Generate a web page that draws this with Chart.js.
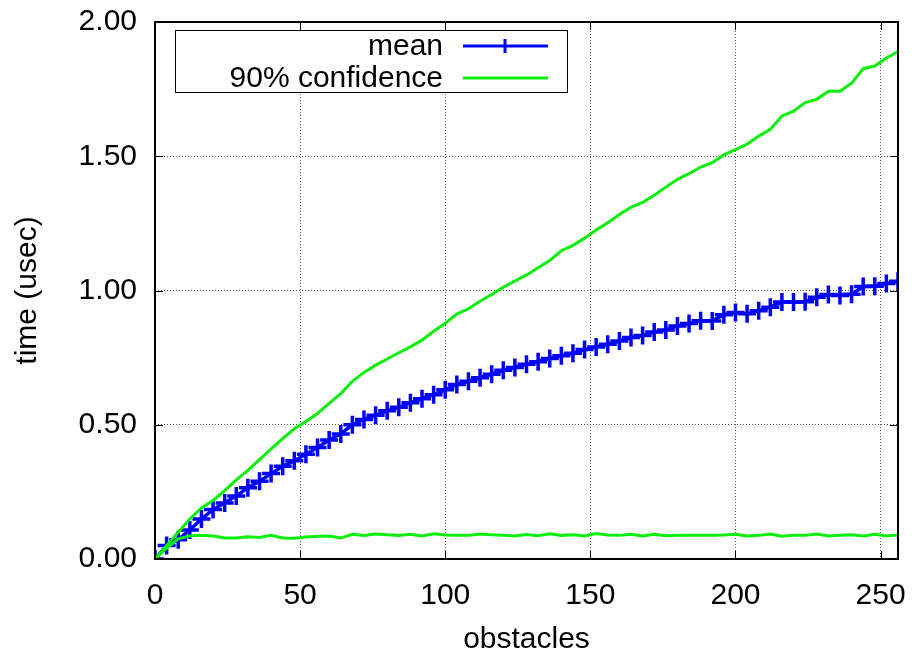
<!DOCTYPE html>
<html>
<head>
<meta charset="utf-8">
<title>time vs obstacles</title>
<script src="https://cdn.jsdelivr.net/npm/chart.js@4.4.1/dist/chart.umd.min.js"></script>
<style>
  html, body { margin: 0; padding: 0; background: #fff; }
  #wrap { width: 912px; height: 658px; }
</style>
</head>
<body>
<div id="wrap"><canvas id="chart"></canvas></div>
<script>
// x positions (obstacles), one sample every 4
const obstacles = [
  0, 4, 8, 12, 16, 20, 24, 28, 32, 36,
  40, 44, 48, 52, 56, 60, 64, 68, 72, 76,
  80, 84, 88, 92, 96, 100, 104, 108, 112, 116,
  120, 124, 128, 132, 136, 140, 144, 148, 152, 156,
  160, 164, 168, 172, 176, 180, 184, 188, 192, 196,
  200, 204, 208, 212, 216, 220, 224, 228, 232, 236,
  240, 244, 248, 252, 256,
];

// mean time (usec)
const meanTime = [
  0.000, 0.050, 0.072, 0.108, 0.149, 0.184, 0.209, 0.235, 0.265, 0.290,
  0.318, 0.345, 0.366, 0.390, 0.415, 0.443, 0.466, 0.500, 0.520, 0.535,
  0.552, 0.565, 0.582, 0.597, 0.612, 0.630, 0.650, 0.662, 0.675, 0.688,
  0.703, 0.713, 0.725, 0.735, 0.747, 0.757, 0.766, 0.780, 0.790, 0.800,
  0.812, 0.825, 0.832, 0.845, 0.853, 0.868, 0.877, 0.887, 0.886, 0.910,
  0.918, 0.913, 0.925, 0.938, 0.957, 0.957, 0.958, 0.975, 0.985, 0.981,
  0.986, 1.015, 1.016, 1.026, 1.034,
];

// 90% confidence band, upper and lower
const confUpper = [
  0.000, 0.050, 0.100, 0.149, 0.190, 0.218, 0.255, 0.295, 0.330, 0.370,
  0.410, 0.448, 0.485, 0.512, 0.542, 0.580, 0.616, 0.662, 0.695, 0.722,
  0.745, 0.768, 0.790, 0.815, 0.848, 0.878, 0.912, 0.932, 0.960, 0.985,
  1.012, 1.035, 1.058, 1.085, 1.112, 1.148, 1.168, 1.195, 1.225, 1.252,
  1.283, 1.310, 1.328, 1.355, 1.385, 1.414, 1.435, 1.460, 1.476, 1.505,
  1.525, 1.545, 1.575, 1.600, 1.650, 1.668, 1.700, 1.712, 1.742, 1.742,
  1.772, 1.826, 1.836, 1.866, 1.890,
];

const confLower = [
  0.000, 0.040, 0.075, 0.086, 0.088, 0.086, 0.078, 0.078, 0.083, 0.080,
  0.088, 0.078, 0.077, 0.082, 0.085, 0.086, 0.078, 0.092, 0.088, 0.093,
  0.090, 0.088, 0.092, 0.086, 0.094, 0.089, 0.088, 0.088, 0.093, 0.090,
  0.088, 0.086, 0.091, 0.087, 0.094, 0.088, 0.090, 0.086, 0.095, 0.089,
  0.088, 0.092, 0.086, 0.092, 0.087, 0.088, 0.088, 0.088, 0.088, 0.089,
  0.092, 0.086, 0.088, 0.093, 0.085, 0.088, 0.088, 0.093, 0.086, 0.088,
  0.090, 0.086, 0.092, 0.086, 0.089,
];

const xTicks = [0, 50, 100, 150, 200, 250];
const yTicks = [0, 0.5, 1.0, 1.5, 2.0];

const BLUE = "#0000ff";
const GREEN = "#0cee0c";
const FONT = '"Liberation Sans", Arial, sans-serif';

function toPoints(values) {
  return obstacles.map((x, i) => ({ x, y: values[i] }));
}

// gnuplot style frame: border all round, ticks pointing inward on every side
const framePlugin = {
  id: "frame",
  afterDatasetsDraw(chart) {
    const { ctx, chartArea: a, scales } = chart;
    const tick = 8;
    ctx.save();
    ctx.strokeStyle = "#000";
    ctx.lineWidth = 1;
    ctx.beginPath();
    xTicks.forEach((v) => {
      const px = Math.round(scales.x.getPixelForValue(v)) + 0.5;
      ctx.moveTo(px, a.bottom);
      ctx.lineTo(px, a.bottom - tick);
      ctx.moveTo(px, a.top);
      ctx.lineTo(px, a.top + tick);
    });
    yTicks.forEach((v) => {
      const py = Math.round(scales.y.getPixelForValue(v)) + 0.5;
      ctx.moveTo(a.left, py);
      ctx.lineTo(a.left + tick, py);
      ctx.moveTo(a.right, py);
      ctx.lineTo(a.right - tick, py);
    });
    ctx.stroke();
    ctx.lineWidth = 2;
    ctx.strokeRect(a.left, a.top, a.right - a.left, a.bottom - a.top);
    ctx.restore();
  },
};

// key box in the top left, text right-aligned before the sample line
const keyPlugin = {
  id: "key",
  afterDraw(chart) {
    const { ctx, chartArea: a } = chart;
    const x0 = a.left + 20;
    const y0 = a.top + 8;
    const rows = [
      { label: chart.data.datasets[0].label, color: BLUE, marker: true },
      { label: chart.data.datasets[1].label, color: GREEN, marker: false },
    ];
    ctx.save();
    ctx.fillStyle = "#fff";
    ctx.fillRect(x0, y0, 393, 63);
    ctx.strokeStyle = "#000";
    ctx.lineWidth = 1;
    ctx.strokeRect(x0 + 0.5, y0 + 0.5, 392, 62);
    ctx.font = `30px ${FONT}`;
    ctx.textAlign = "right";
    ctx.textBaseline = "middle";
    rows.forEach((row, i) => {
      const y = y0 + 16 + i * 32;
      ctx.fillStyle = "#000";
      ctx.fillText(row.label, x0 + 268, y + 1);
      ctx.strokeStyle = row.color;
      ctx.lineWidth = 3;
      ctx.beginPath();
      ctx.moveTo(x0 + 288, y);
      ctx.lineTo(x0 + 373, y);
      if (row.marker) {
        ctx.moveTo(x0 + 330, y - 7);
        ctx.lineTo(x0 + 330, y + 7);
      }
      ctx.stroke();
    });
    ctx.restore();
  },
};

new Chart(document.getElementById("chart"), {
  type: "line",
  data: {
    datasets: [
      {
        label: "mean",
        data: toPoints(meanTime),
        borderColor: BLUE,
        backgroundColor: BLUE,
        borderWidth: 3.5,
        pointStyle: "cross",
        pointRadius: 9,
        pointBorderWidth: 3.5,
        pointHoverRadius: 9,
        order: 2,
      },
      {
        label: "90% confidence",
        data: toPoints(confUpper),
        borderColor: GREEN,
        borderWidth: 3,
        pointRadius: 0,
        order: 1,
      },
      {
        label: "90% confidence (low)",
        data: toPoints(confLower),
        borderColor: GREEN,
        borderWidth: 3,
        pointRadius: 0,
        order: 1,
      },
    ],
  },
  options: {
    responsive: true,
    maintainAspectRatio: false,
    animation: false,
    layout: { padding: { top: 22, right: 14, left: 0, bottom: 0 } },
    plugins: {
      legend: { display: false },
      tooltip: { enabled: false },
    },
    scales: {
      x: {
        type: "linear",
        min: 0,
        max: 256,
        afterBuildTicks: (scale) => {
          scale.ticks = xTicks.map((v) => ({ value: v }));
        },
        afterFit: (scale) => {
          scale.height = 99;
          scale.paddingLeft = 0;
          scale.paddingRight = 0;
        },
        grid: { color: "#555", drawTicks: false },
        border: { display: false, dash: [1, 2] },
        ticks: {
          color: "#000",
          font: { size: 30, family: FONT },
          padding: 19,
          maxRotation: 0,
          callback: (v) => String(v),
        },
        title: {
          display: true,
          text: "obstacles",
          color: "#000",
          font: { size: 30, family: FONT },
          padding: { top: 0, bottom: 0 },
        },
      },
      y: {
        min: 0,
        max: 2,
        afterBuildTicks: (scale) => {
          scale.ticks = yTicks.map((v) => ({ value: v }));
        },
        afterFit: (scale) => {
          scale.width = 155;
          scale.paddingTop = 0;
          scale.paddingBottom = 0;
        },
        grid: { color: "#555", drawTicks: false },
        border: { display: false, dash: [1, 2] },
        ticks: {
          color: "#000",
          font: { size: 30, family: FONT },
          padding: 18,
          callback: (v) => Number(v).toFixed(2),
        },
        title: {
          display: true,
          text: "time (usec)",
          color: "#000",
          font: { size: 30, family: FONT },
          padding: { top: 10, bottom: 0 },
        },
      },
    },
  },
  plugins: [framePlugin, keyPlugin],
});
</script>
</body>
</html>
